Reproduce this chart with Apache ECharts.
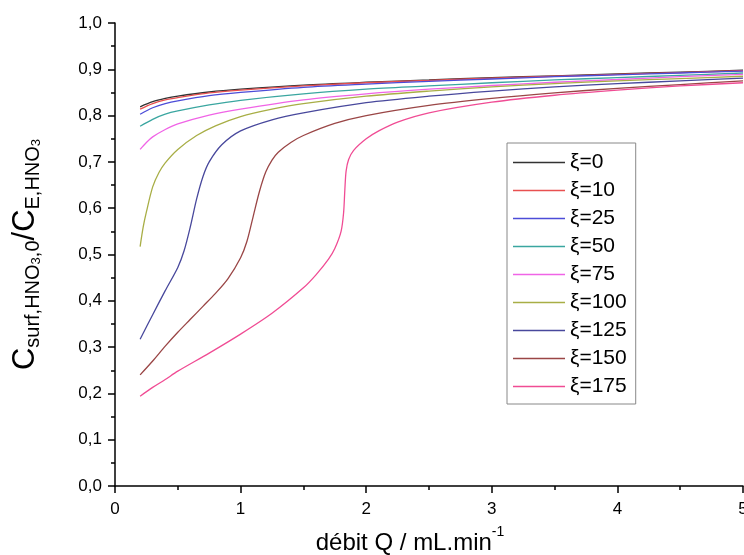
<!DOCTYPE html>
<html><head><meta charset="utf-8">
<script src="https://cdn.jsdelivr.net/npm/echarts@6/dist/echarts.min.js"></script>
<style>html,body{margin:0;padding:0;background:#fff}#c{width:744px;height:555px}</style>
</head><body><div id="c"></div>
<script>
// ---- data ----
const seriesNames = ['ξ=0','ξ=10','ξ=25','ξ=50','ξ=75','ξ=100','ξ=125','ξ=150','ξ=175'];
const seriesColors = ['#333333','#e85050','#4c4cd8','#3aa6a0','#f064e6','#a8ae46','#48489c','#9a4646','#f04c94'];

const q_xi0   = [0.2,0.3,0.4,0.5,0.75,1,1.5,2,2.5,3,3.5,4,4.5,5];
const v_xi0   = [0.819,0.830,0.837,0.842,0.851,0.857,0.866,0.872,0.877,0.882,0.886,0.890,0.894,0.898];
const q_xi10  = [0.2,0.3,0.4,0.5,0.75,1,1.5,2,2.5,3,3.5,4,4.5,5];
const v_xi10  = [0.814,0.826,0.834,0.839,0.849,0.855,0.864,0.871,0.876,0.881,0.885,0.889,0.893,0.897];
const q_xi25  = [0.2,0.3,0.4,0.5,0.75,1,1.5,2,2.5,3,3.5,4,4.5,5];
const v_xi25  = [0.803,0.817,0.826,0.832,0.843,0.850,0.861,0.868,0.874,0.879,0.884,0.888,0.892,0.896];
const q_xi50  = [0.2,0.3,0.4,0.5,0.75,1,1.5,2,2.5,3,3.5,4,4.5,5];
const v_xi50  = [0.777,0.792,0.803,0.810,0.823,0.833,0.847,0.857,0.864,0.871,0.877,0.882,0.887,0.892];
const q_xi75  = [0.2,0.25,0.3,0.4,0.5,0.75,1,1.5,2,2.5,3,3.5,4,4.5,5];
const v_xi75  = [0.727,0.742,0.754,0.770,0.782,0.801,0.814,0.834,0.847,0.857,0.865,0.872,0.878,0.884,0.889];
const q_xi100 = [0.2,0.225,0.25,0.3,0.35,0.4,0.5,0.65,0.8,1,1.25,1.5,2,2.5,3,3.5,4,4.5,5];
const v_xi100 = [0.517,0.560,0.592,0.646,0.677,0.698,0.727,0.757,0.778,0.798,0.814,0.826,0.842,0.853,0.862,0.869,0.875,0.880,0.885];
const q_xi125 = [0.2,0.3,0.4,0.5,0.55,0.6,0.65,0.7,0.75,0.85,1,1.25,1.5,2,2.5,3,3.5,4,4.5,5];
const v_xi125 = [0.317,0.370,0.422,0.472,0.508,0.560,0.620,0.668,0.700,0.737,0.767,0.791,0.806,0.828,0.842,0.853,0.862,0.869,0.875,0.881];
const q_xi150 = [0.2,0.3,0.4,0.5,0.6,0.7,0.8,0.9,1,1.05,1.1,1.15,1.2,1.25,1.3,1.4,1.5,1.75,2,2.5,3,3.5,4,4.5,5];
const v_xi150 = [0.240,0.270,0.302,0.332,0.360,0.388,0.416,0.448,0.493,0.528,0.582,0.636,0.678,0.704,0.721,0.742,0.757,0.783,0.800,0.822,0.837,0.849,0.859,0.867,0.875];
const q_xi175 = [0.2,0.3,0.4,0.5,0.75,1,1.25,1.5,1.6,1.7,1.75,1.8,1.82,1.83,1.84,1.86,1.9,2,2.1,2.25,2.5,3,3.5,4,4.5,5];
const v_xi175 = [0.194,0.213,0.230,0.248,0.287,0.328,0.373,0.428,0.456,0.490,0.513,0.550,0.590,0.640,0.680,0.705,0.725,0.750,0.767,0.786,0.806,0.829,0.844,0.855,0.864,0.871];

const xTicks = [0,1,2,3,4,5];
const yTicks = [0,0.1,0.2,0.3,0.4,0.5,0.6,0.7,0.8,0.9,1.0];

const qs = [q_xi0,q_xi10,q_xi25,q_xi50,q_xi75,q_xi100,q_xi125,q_xi150,q_xi175];
const vs = [v_xi0,v_xi10,v_xi25,v_xi50,v_xi75,v_xi100,v_xi125,v_xi150,v_xi175];

const FONT = '"Liberation Sans", Arial, sans-serif';
const chart = echarts.init(document.getElementById('c'), null, {renderer:'canvas'});
const axisCommon = {
  axisLine:{show:true, onZero:false, lineStyle:{color:'#000', width:1.5}},
  axisTick:{show:true, inside:false, length:7, lineStyle:{color:'#000', width:1.5}},
  minorTick:{show:true, splitNumber:2, length:4, lineStyle:{color:'#000', width:1.5}},
  splitLine:{show:false},
  minorSplitLine:{show:false}
};
chart.setOption({
  animation:false,
  backgroundColor:'#fff',
  grid:{left:115, right:1, top:23, bottom:69, containLabel:false, outerBoundsMode:'none'},
  legend:{
    orient:'vertical', left:507, top:143,
    data:seriesNames,
    icon:'rect',
    itemWidth:52, itemHeight:1.5, itemGap:7, itemTextGap:5,
    textStyle:{fontSize:21, color:'#000', fontFamily:FONT},
    borderColor:'#888', borderWidth:1, backgroundColor:'#fff',
    padding:[9,9,7,6]
  },
  xAxis:Object.assign({
    type:'value', min:xTicks[0], max:xTicks[xTicks.length-1], interval:1,
    name:'{m|débit Q / mL.min}{sup|-1}', nameLocation:'middle', nameGap:39,
    nameTextStyle:{padding:[0,38,0,0], rich:{
      m:{fontSize:24, lineHeight:30, verticalAlign:'bottom', color:'#000', fontFamily:FONT},
      sup:{fontSize:14, lineHeight:12, verticalAlign:'top', color:'#000', fontFamily:FONT}
    }},
    axisLabel:{fontSize:17, color:'#000', margin:15, fontFamily:FONT}
  }, axisCommon),
  yAxis:Object.assign({
    type:'value', min:yTicks[0], max:yTicks[yTicks.length-1], interval:0.1,
    name:'{c|C}{s|surf,HNO}{ss|3}{s|,0}{c|/C}{s|E,HNO}{ss|3}',
    nameLocation:'middle', nameRotate:90, nameGap:72,
    nameTextStyle:{rich:{
      c:{fontSize:31, lineHeight:33, verticalAlign:'top', color:'#000', fontFamily:FONT},
      s:{fontSize:20, lineHeight:10, verticalAlign:'bottom', color:'#000', fontFamily:FONT},
      ss:{fontSize:13, lineHeight:2, verticalAlign:'bottom', color:'#000', fontFamily:FONT}
    }},
    axisLabel:{fontSize:17, color:'#000', margin:13, fontFamily:FONT,
      formatter:v=>v.toFixed(1).replace('.',',')}
  }, axisCommon),
  series:seriesNames.map((n,i)=>({
    name:n, type:'line', symbol:'none', smooth:0.3,
    lineStyle:{width:1.3, color:seriesColors[i]}, itemStyle:{color:seriesColors[i]},
    data:qs[i].map((q,j)=>[q, vs[i][j]])
  }))
});
</script></body></html>
